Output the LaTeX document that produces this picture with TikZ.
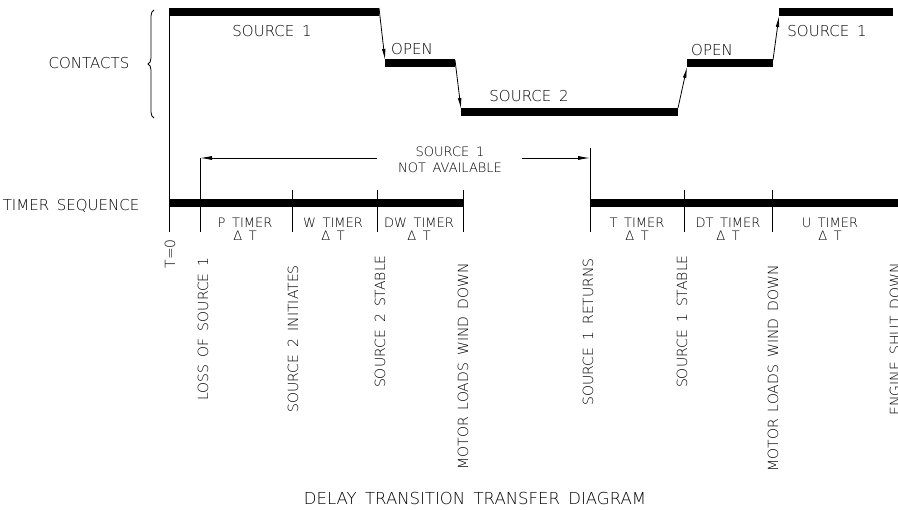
\documentclass[tikz,border=0pt]{standalone}
\usepackage{fontspec}
\setmainfont[WordSpace=1.6]{DejaVuSans-ExtraLight.ttf}
\usetikzlibrary{arrows.meta,positioning,decorations.pathreplacing}

\begin{document}
\begin{tikzpicture}[x=1pt,y=-1pt,
  bar/.style={line width=7.5pt},
  thin/.style={line width=0.8pt},
  tick/.style={line width=0.7pt},
  flow/.style={line width=0.8pt,-{Latex[length=11pt,width=3.6pt]}},
  lbl/.style={font=\fontsize{15}{15}\selectfont,inner sep=0pt},
  note/.style={font=\fontsize{13}{15.5}\selectfont,align=center,inner sep=0pt},
  tmr/.style={font=\fontsize{13}{13}\selectfont,align=center,inner sep=0pt},
  evt/.style={font=\fontsize{14}{14}\selectfont,rotate=90,anchor=east,inner sep=0pt}]
  \useasboundingbox (0,0) rectangle (898,510);
  \clip (0,0) rectangle (898,510);
  % Contacts
  \coordinate (c1a) at (169,12);  \coordinate (c1b) at (379,12);
  \coordinate (o1a) at (385,63);  \coordinate (o1b) at (455,63);
  \coordinate (c2a) at (461,112); \coordinate (c2b) at (678,112);
  \coordinate (o2a) at (687,63);  \coordinate (o2b) at (773,63);
  \coordinate (c3a) at (779,12);  \coordinate (c3b) at (893,12);
  \draw[bar] (c1a) -- (c1b);
  \draw[bar] (o1a) -- (o1b);
  \draw[bar] (c2a) -- (c2b);
  \draw[bar] (o2a) -- (o2b);
  \draw[bar] (c3a) -- (c3b);
  \draw[flow] ([yshift=4pt]c1b) -- ([yshift=3pt]o1a);
  \draw[flow] ([yshift=3pt]o1b) -- ([yshift=3pt]c2a);
  \draw[flow] ([yshift=4pt]c2b) -- ([yshift=-4pt]o2a);
  \draw[flow] ([yshift=3pt]o2b) -- ([yshift=-4pt]c3a);
  \node[lbl] (src1) at (272,31.5) {SOURCE 1};
  \node[lbl] (open1) at (412,49) {OPEN};
  \node[lbl] (src2) at (529,96) {SOURCE 2};
  \node[lbl] (open2) at (712,50) {OPEN};
  \node[lbl] (src1r) at (827,31.5) {SOURCE 1};
  % Brace
  \node[lbl] (contacts) at (89,63) {CONTACTS};
  \draw[thin,decorate,decoration={brace,amplitude=6pt}] (154,118) -- (154,10);
  % Timer sequence
  \node[lbl] (timer) at (71,206) {TIMER SEQUENCE};
  \coordinate (t0) at (169,232);
  \draw[thin] ([yshift=3.75pt]c1a) -- (t0);
  \coordinate (ta) at (169,203.5); \coordinate (tb) at (463,203.5);
  \coordinate (tc) at (590,203.5); \coordinate (td) at (898,203.5);
  \draw[bar,line width=8pt] (ta) -- (tb);
  \draw[bar,line width=8pt] (tc) -- (td);
  \coordinate (loss) at (200,158);
  \coordinate (ret) at (590,148);
  \draw[tick] (loss) -- (200,232);
  \draw[tick] (ret) -- (590,232);
  \foreach \x in {292,377,463,684,772}
    \draw[tick] (\x,190) -- (\x,232);
  % Source 1 not available
  \node[note] (na) at (450,160) {SOURCE 1\\NOT AVAILABLE};
  \coordinate (naL) at (377,158);
  \coordinate (naR) at (522,158);
  \draw[thin,-{Latex[length=12pt,width=4pt]}] (naL) -- (loss);
  \draw[thin,-{Latex[length=12pt,width=4pt]}] (naR) -- (590,158);
  % Timers
  \node[tmr] (ptm) at (245,229) {P TIMER\\Δ T};
  \node[tmr] (wtm) at (333,229) {W TIMER\\Δ T};
  \node[tmr] (dwtm) at (419,229) {DW TIMER\\Δ T};
  \node[tmr] (ttm) at (637,229) {T TIMER\\Δ T};
  \node[tmr] (dttm) at (728,229) {DT TIMER\\Δ T};
  \node[tmr] (utm) at (830,229) {U TIMER\\Δ T};
  % Events
  \node[evt] (ev0) at (170,239) {T=0};
  \node[evt] (ev1) at (203,257) {LOSS OF SOURCE 1};
  \node[evt] (ev2) at (293,265) {SOURCE 2 INITIATES};
  \node[evt] (ev3) at (380,255) {SOURCE 2 STABLE};
  \node[evt] (ev4) at (463,263) {MOTOR LOADS WIND DOWN};
  \node[evt] (ev5) at (588,258) {SOURCE 1 RETURNS};
  \node[evt] (ev6) at (682,255) {SOURCE 1 STABLE};
  \node[evt] (ev7) at (773,265) {MOTOR LOADS WIND DOWN};
  \node[evt] (ev8) at (895,263) {ENGINE SHUT DOWN};
  % Title
  \node[lbl,font=\fontsize{16.5}{17}\selectfont] (title) at (475,498) {DELAY TRANSITION TRANSFER DIAGRAM};
\end{tikzpicture}
\end{document}
